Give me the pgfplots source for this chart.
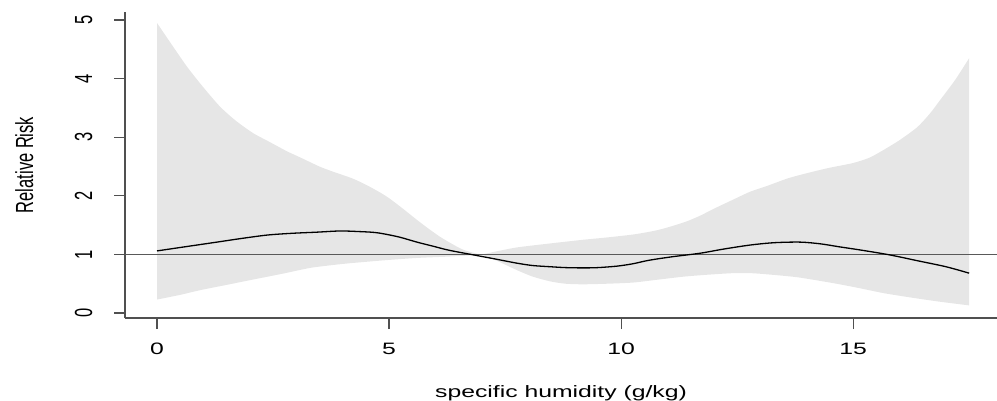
\documentclass[border=0pt]{standalone}
\usepackage{pgfplots}
\pgfplotsset{compat=1.18}
\usepgfplotslibrary{fillbetween}
\usepackage{fontspec}
\setmainfont{Liberation Sans}
\definecolor{band}{HTML}{E6E6E6}
\definecolor{spine}{HTML}{505050}
\begin{document}
\fontsize{16.5bp}{19bp}\selectfont
\begin{tikzpicture}
\begin{axis}[
 scale only axis, width=872bp, height=306bp,
 xmin=-0.69, xmax=18.10, ymin=-0.085, ymax=5.137,
 axis x line*=bottom, axis y line*=left,
 axis line style={-, draw=spine, line width=1.4bp},
 tick align=outside, major tick length=11bp,
 tick style={draw=spine, line width=1.2bp},
 xtick={0,5,10,15}, ytick={0,1,2,3,4,5},
 /pgf/number format/assume math mode=true,
 xticklabel={\scalebox{1.5}[1]{\pgfmathprintnumber{\tick}}},
 yticklabel={\scalebox{1}[1.5]{\pgfmathprintnumber{\tick}}},
 x tick label style={anchor=north, inner sep=0pt, yshift=-14bp},
 y tick label style={xshift=-22bp, rotate=90, anchor=base, inner sep=0pt},
 xlabel={\scalebox{1.5}[1]{specific humidity (g/kg)}},
 ylabel={\scalebox{1}[1.5]{Relative Risk}},
 xlabel style={at={(axis description cs:0.5,-0.2614)}, anchor=base, inner sep=0pt},
 ylabel style={at={(axis description cs:-0.1055,0.5)}, rotate=0, anchor=base, inner sep=0pt},
]
\addplot[name path=U, draw=none, smooth, tension=0.4] coordinates {
(0,4.95) (0.3,4.6) (0.65,4.2) (1.0,3.85) (1.36,3.52) (1.7,3.28) (2.07,3.07) (2.4,2.93) (2.8,2.76) (3.1,2.65) (3.5,2.50) (3.8,2.41) (4.2,2.30) (4.5,2.19) (4.8,2.06) (5.0,1.96) (5.3,1.78) (5.6,1.59) (5.85,1.44) (6.1,1.30) (6.4,1.16) (6.6,1.08) (6.9,1.01) (7.0,1.00) (7.3,1.05) (7.76,1.12) (8.5,1.19) (9.18,1.25) (9.7,1.29) (10.26,1.34) (10.7,1.40) (11.0,1.46) (11.4,1.56) (11.7,1.66) (12.0,1.78) (12.4,1.93) (12.78,2.07) (13.15,2.17) (13.6,2.30) (14.07,2.40) (14.5,2.48) (15.0,2.56) (15.35,2.65) (15.65,2.78) (16.0,2.95) (16.38,3.17) (16.65,3.40) (16.87,3.63) (17.2,3.98) (17.5,4.35)
};
\addplot[name path=L, draw=none, smooth, tension=0.4] coordinates {
(0,0.23) (0.5,0.31) (0.93,0.39) (1.5,0.48) (2.0,0.56) (2.7,0.67) (3.3,0.77) (3.8,0.82) (4.16,0.85) (4.9,0.90) (5.6,0.94) (6.2,0.96) (6.7,0.98) (7.0,0.99) (7.3,0.90) (7.76,0.73) (8.1,0.62) (8.47,0.54) (8.8,0.50) (9.18,0.49) (9.7,0.50) (10.26,0.52) (10.8,0.57) (11.34,0.62) (11.8,0.65) (12.4,0.68) (12.8,0.68) (13.15,0.66) (13.8,0.61) (14.57,0.51) (15.1,0.43) (15.65,0.34) (16.2,0.27) (16.8,0.20) (17.5,0.13)
};
\addplot[fill=band, draw=none] fill between[of=U and L];
\addplot[draw=black!65, line width=1.6bp] coordinates {(-0.69,1) (18.10,1)};
\addplot[black, line width=1.3bp, smooth, tension=0.5] coordinates {
(0,1.06) (0.6,1.13) (1.29,1.21) (1.8,1.27) (2.37,1.33) (2.9,1.36) (3.45,1.38) (3.94,1.40) (4.35,1.39) (4.74,1.37) (5.2,1.30) (5.6,1.21) (5.95,1.14) (6.3,1.07) (6.9,0.98) (7.3,0.92) (7.76,0.85) (8.1,0.81) (8.47,0.79) (8.8,0.775) (9.18,0.77) (9.5,0.775) (9.91,0.80) (10.25,0.84) (10.6,0.90) (11.1,0.96) (11.7,1.02) (12.2,1.09) (12.78,1.16) (13.3,1.20) (13.86,1.21) (14.3,1.18) (14.7,1.13) (15.2,1.07) (15.8,0.99) (16.4,0.89) (17.0,0.79) (17.5,0.68)
};
\end{axis}
\pgfresetboundingbox
\path (current axis.south west) ++(-125bp,-83bp) rectangle ([yshift=12bp]current axis.north east);
\end{tikzpicture}
\end{document}
